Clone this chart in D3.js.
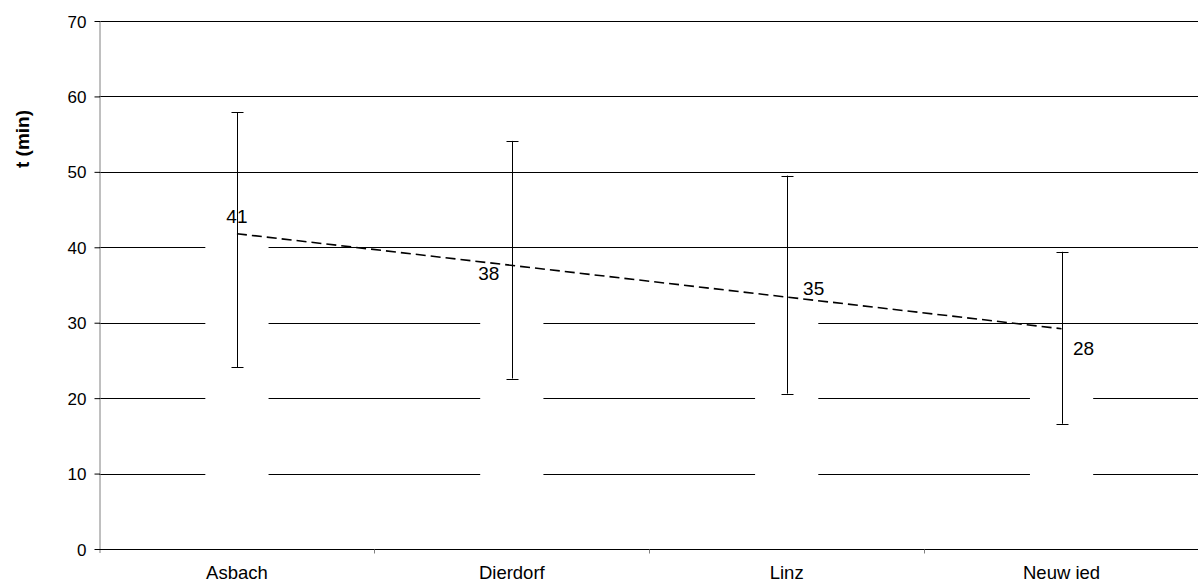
<!DOCTYPE html>
<html>
<head>
<meta charset="utf-8">
<script src="https://cdn.jsdelivr.net/npm/d3@7"></script>
<style>
  html, body { margin: 0; padding: 0; background: #fff; }
  svg { display: block; }
  text { font-family: "Liberation Sans", Arial, sans-serif; fill: #000; }
</style>
</head>
<body>
<svg id="chart" width="1198" height="585"></svg>
<script>
// Travel time per location (minutes)
const categories = ["Asbach", "Dierdorf", "Linz", "Neuw ied"];
const meanTime = [41, 38, 35, 28];
const errLow = [24.1, 22.6, 20.6, 16.6];
const errHigh = [57.9, 54.1, 49.5, 39.4];
const yTicks = [0, 10, 20, 30, 40, 50, 60, 70];

// Value label nudges in pixels, relative to each bar top
const labelNudge = [[0, -17], [-23, 18], [27, 10], [22, 17]];

const svg = d3.select("#chart");
const margin = { left: 99.5, right: -1, top: 21, bottom: 36 };
const W = 1198, H = 585;

const x = d3.scaleBand()
  .domain(categories)
  .range([margin.left, W - margin.right])
  .paddingInner(0.77)
  .paddingOuter(0.385);

const y = d3.scaleLinear()
  .domain([0, 70])
  .range([H - margin.bottom, margin.top]);

const cx = c => x(c) + x.bandwidth() / 2;

// Horizontal gridlines
svg.append("g")
  .selectAll("line")
  .data(yTicks.filter(t => t > 0))
  .join("line")
  .attr("x1", margin.left)
  .attr("x2", W)
  .attr("y1", d => Math.round(y(d)) + 0.5)
  .attr("y2", d => Math.round(y(d)) + 0.5)
  .attr("stroke", "#000")
  .attr("stroke-width", 1);

// White bars (hide gridlines behind them)
svg.append("g")
  .selectAll("rect")
  .data(meanTime)
  .join("rect")
  .attr("x", (d, i) => x(categories[i]))
  .attr("width", x.bandwidth())
  .attr("y", d => y(d))
  .attr("height", d => y(0) - y(d))
  .attr("fill", "#fff");

// Y axis
const yAxis = svg.append("g")
  .attr("transform", `translate(${margin.left},0)`)
  .call(d3.axisLeft(y).tickValues(yTicks).tickSize(5).tickSizeOuter(0).tickPadding(8));
yAxis.select(".domain").attr("stroke", "#808080").attr("d", `M0.5,${y(70)}V${y(0) + 4}`);
yAxis.selectAll(".tick line").attr("stroke", "#000").attr("x1", 0.5);
yAxis.selectAll(".tick text")
  .style("font-size", "17px")
  .attr("dy", "0.36em");

// X axis
const xAxisY = Math.round(y(0)) + 0.5;
const xg = svg.append("g").attr("transform", `translate(0,${xAxisY})`);
xg.append("line")
  .attr("x1", margin.left).attr("x2", W)
  .attr("stroke", "#000");
const bounds = categories.map(c => x(c) - x.step() * x.paddingInner() / 2).slice(1);
xg.selectAll("line.tk")
  .data(bounds)
  .join("line")
  .attr("class", "tk")
  .attr("x1", d => Math.round(d) + 0.5)
  .attr("x2", d => Math.round(d) + 0.5)
  .attr("y1", 0).attr("y2", 4)
  .attr("stroke", "#808080");
xg.selectAll("text")
  .data(categories)
  .join("text")
  .attr("x", d => cx(d))
  .attr("y", 29)
  .attr("text-anchor", "middle")
  .style("font-size", "18.5px")
  .text(d => d);

// Axis title
svg.append("text")
  .attr("transform", `translate(29,139) rotate(-90)`)
  .attr("text-anchor", "middle")
  .style("font-size", "19px")
  .style("font-weight", "bold")
  .text("t (min)");

// Error bars
const eg = svg.append("g").attr("stroke", "#000").attr("stroke-width", 1);
categories.forEach((c, i) => {
  const px = Math.round(cx(c)) + 0.5;
  eg.append("line").attr("x1", px).attr("x2", px)
    .attr("y1", y(errLow[i])).attr("y2", y(errHigh[i]));
  [errLow[i], errHigh[i]].forEach(v => {
    const py = Math.round(y(v)) + 0.5;
    eg.append("line").attr("x1", px - 6).attr("x2", px + 6)
      .attr("y1", py).attr("y2", py);
  });
});

// Linear trend line through the means
const xs = meanTime.map((d, i) => i + 1);
const mx = d3.mean(xs), my = d3.mean(meanTime);
const slope = d3.sum(xs, (v, i) => (v - mx) * (meanTime[i] - my)) / d3.sum(xs, v => (v - mx) ** 2);
const icpt = my - slope * mx;
const trend = xs.map((v, i) => [cx(categories[i]), y(icpt + slope * v)]);
svg.append("path")
  .attr("d", d3.line()([trend[0], trend[trend.length - 1]]))
  .attr("fill", "none")
  .attr("stroke", "#000")
  .attr("stroke-width", 1.6)
  .attr("stroke-dasharray", "10,5");

// Value labels
svg.append("g")
  .selectAll("text")
  .data(meanTime)
  .join("text")
  .attr("x", (d, i) => cx(categories[i]) + labelNudge[i][0])
  .attr("y", (d, i) => y(d) + labelNudge[i][1])
  .attr("text-anchor", "middle")
  .style("font-size", "19px")
  .text(d => d3.format("d")(d));
</script>
</body>
</html>
